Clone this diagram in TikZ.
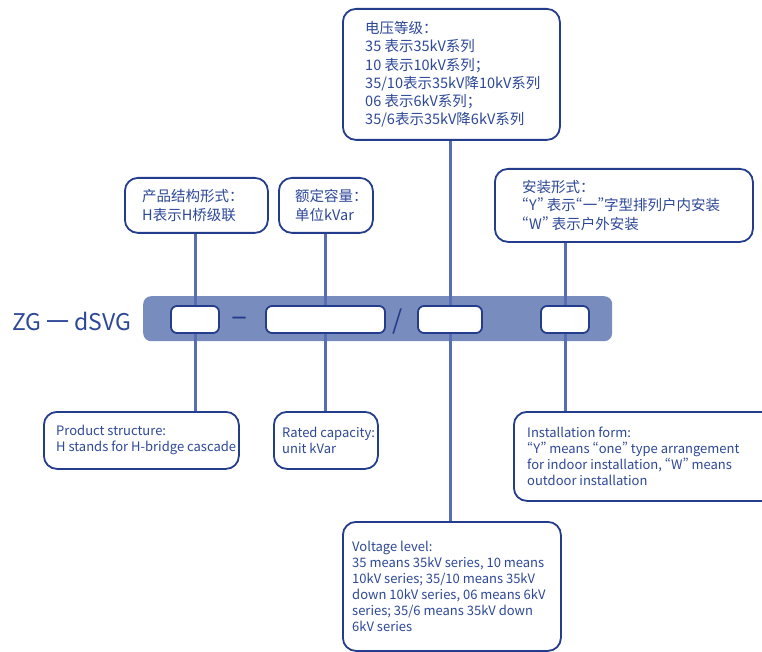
\documentclass[tikz,border=0pt]{standalone}
\usepackage{fontspec}
\setmainfont{Noto Sans CJK SC}[RawFeature=+pwid]
\usetikzlibrary{positioning}
\definecolor{NavyEdge}{RGB}{36,60,140}
\definecolor{InkBlue}{RGB}{45,72,152}
\definecolor{BarBlue}{RGB}{120,140,190}
\definecolor{StemBlue}{RGB}{88,110,178}

\begin{document}
\begin{tikzpicture}[x=1pt, y=-1pt, every node/.style={inner sep=0pt},
  infobox/.style={draw=NavyEdge, line width=1.8pt, rounded corners=13pt,
                  fill=white, anchor=north west},
  cnlines/.style={anchor=west, align=left, text=InkBlue,
                  font=\fontsize{14.5}{18.3}\selectfont},
  enlines/.style={anchor=west, align=left, text=InkBlue,
                  font=\fontsize{13}{16}\selectfont},
  codebox/.style={draw=NavyEdge, line width=1.8pt, rounded corners=6pt,
                  fill=white, minimum height=27pt},
  stem/.style={StemBlue, line width=3pt}]
  \useasboundingbox (0,0) rectangle (762,652);

  % code bar
  \node[fill=BarBlue, rounded corners=8pt, anchor=north west,
        minimum width=469pt, minimum height=45pt] (bar) at (143,296) {};
  \node[anchor=west, text=InkBlue, font=\fontsize{23}{23}\selectfont]
        (title) at (12,321) {ZG 一 dSVG};
  \coordinate (c1) at (195,319.5);
  \coordinate (c2) at (325.5,319.5);
  \coordinate (c3) at (450,319.5);
  \coordinate (c4) at (565,319.5);

  % Chinese boxes above
  \node[infobox, minimum width=217pt, minimum height=131pt] (vcn) at (342,8) {};
  \node[cnlines, right=23pt of vcn.west] (vcntxt)
        {电压等级：\\35 表示35kV系列\\10 表示10kV系列；\\35/10表示35kV降10kV系列\\06 表示6kV系列；\\35/6表示35kV降6kV系列};
  \node[infobox, minimum width=143pt, minimum height=55pt] (pcn) at (124,177) {};
  \node[cnlines, right=18pt of pcn.west] (pcntxt) {产品结构形式：\\H表示H桥级联};
  \node[infobox, minimum width=94pt, minimum height=55pt] (rcn) at (278,177) {};
  \node[cnlines, right=17pt of rcn.west] (rcntxt) {额定容量：\\单位kVar};
  \node[infobox, minimum width=258pt, minimum height=73pt] (icn) at (494,168) {};
  \node[cnlines, right=28pt of icn.west] (icntxt)
        {安装形式：\\“Y” 表示“一”字型排列户内安装\\“W” 表示户外安装};

  % English boxes below
  \node[infobox, minimum width=195pt, minimum height=57pt] (pen) at (43,411) {};
  \node[enlines, right=13pt of pen.west] (pentxt)
        {Product structure:\\H stands for H-bridge cascade};
  \node[infobox, minimum width=104pt, minimum height=57pt] (ren) at (273,411) {};
  \node[enlines, right=9pt of ren.west] (rentxt) {Rated capacity:\\unit kVar};
  \node[infobox, minimum width=270pt, minimum height=89pt] (ien) at (513,411) {};
  \node[enlines, right=14pt of ien.west] (ientxt)
        {Installation form:\\“Y” means “one” type arrangement\\for indoor installation, “W” means\\outdoor installation};
  \node[infobox, minimum width=218pt, minimum height=129pt] (ven) at (342,521) {};
  \node[enlines, right=10pt of ven.west] (ventxt)
        {Voltage level:\\35 means 35kV series, 10 means\\10kV series; 35/10 means 35kV\\down 10kV series, 06 means 6kV\\series; 35/6 means 35kV down\\6kV series};

  % stems
  \draw[stem] (c1 |- pcn.south) -- (c1 |- pen.north);
  \draw[stem] (c2 |- rcn.south) -- (c2 |- ren.north);
  \draw[stem] (c3 |- vcn.south) -- (c3 |- ven.north);
  \draw[stem] (c4 |- icn.south) -- (c4 |- ien.north);

  % code slots
  \node[codebox, minimum width=48pt] (k1) at (c1) {};
  \node[codebox, minimum width=119pt] (k2) at (c2) {};
  \node[codebox, minimum width=64pt] (k3) at (c3) {};
  \node[codebox, minimum width=48pt] (k4) at (c4) {};
  \node[text=NavyEdge, font=\fontsize{30}{30}\selectfont] (dash) at (240,322) {–};
  \node[text=NavyEdge, font=\fontsize{26}{26}\selectfont] (slash) at (398,322) {/};
\end{tikzpicture}
\end{document}
